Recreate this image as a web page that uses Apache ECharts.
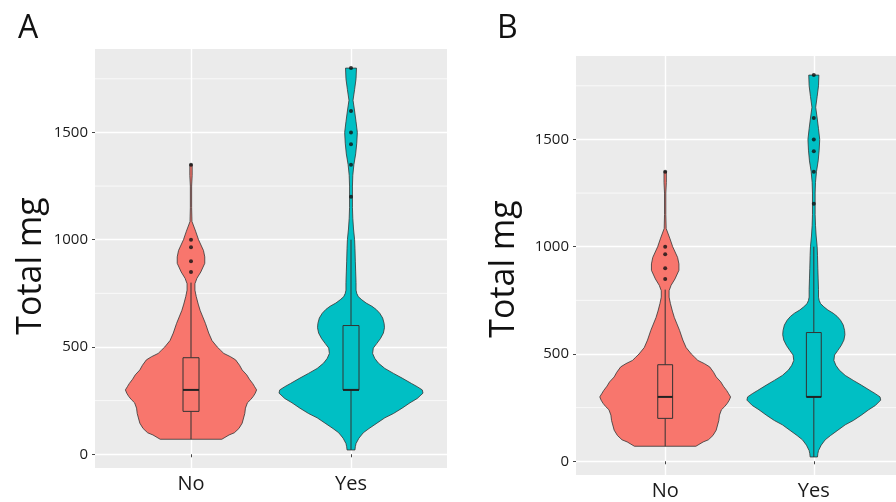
<!DOCTYPE html>
<html><head><meta charset="utf-8">
<script src="https://cdn.jsdelivr.net/npm/echarts@6/dist/echarts.min.js"></script>
<style>html,body{margin:0;padding:0;background:#fff}#c{width:896px;height:502px}</style>
</head><body><div id="c"></div>
<script>
const categories = ['No', 'Yes'];
const yTickValues = [0, 500, 1000, 1500];
const yMinorValues = [250, 750, 1250, 1750];
const panelLabels = ['A', 'B'];
const yTitle = 'Total mg';

// violin density profiles: value (mg) and relative half-width (peak = 1)
const noValues = [70, 90, 100, 120, 145, 190, 215, 240, 255, 270, 285, 300, 315, 330, 350, 370, 393, 415, 440, 455, 470, 485, 500, 530, 565, 610, 640, 670, 700, 735, 765, 795, 820, 850, 890, 920, 950, 1000, 1040, 1085, 1150, 1250, 1300, 1350];
const noDensity = [0.47, 0.58, 0.66, 0.73, 0.78, 0.82, 0.83, 0.86, 0.91, 0.95, 0.98, 1.0, 0.97, 0.94, 0.89, 0.85, 0.78, 0.74, 0.68, 0.60, 0.50, 0.45, 0.40, 0.32, 0.27, 0.22, 0.18, 0.14, 0.11, 0.08, 0.06, 0.06, 0.09, 0.15, 0.21, 0.21, 0.19, 0.115, 0.07, 0.015, 0.01, 0.01, 0.018, 0.018];
const yesValues = [20, 35, 50, 75, 100, 120, 145, 170, 190, 215, 240, 260, 285, 300, 315, 330, 355, 377, 400, 425, 447, 470, 495, 517, 540, 565, 590, 610, 635, 657, 675, 690, 705, 720, 735, 750, 765, 800, 850, 900, 960, 1000, 1050, 1100, 1150, 1200, 1250, 1300, 1350, 1400, 1450, 1500, 1550, 1600, 1650, 1700, 1750, 1800];
const yesDensity = [0.055, 0.06, 0.07, 0.11, 0.17, 0.25, 0.36, 0.47, 0.59, 0.71, 0.82, 0.92, 1.0, 0.99, 0.92, 0.84, 0.71, 0.59, 0.47, 0.38, 0.33, 0.30, 0.31, 0.36, 0.41, 0.45, 0.465, 0.46, 0.44, 0.40, 0.35, 0.29, 0.21, 0.15, 0.10, 0.08, 0.07, 0.07, 0.065, 0.06, 0.055, 0.05, 0.035, 0.025, 0.02, 0.02, 0.02, 0.025, 0.04, 0.065, 0.08, 0.088, 0.07, 0.05, 0.028, 0.05, 0.07, 0.076];

// box statistics: [lower whisker, Q1, median, Q3, upper whisker]
const noBox = [70, 200, 300, 450, 800];
const yesBox = [20, 300, 300, 600, 1000];
const noOutliers = [850, 900, 965, 1000, 1350];
const yesOutliers = [1200, 1350, 1445, 1500, 1600, 1800];

const groups = [
  {values: noValues, density: noDensity, box: noBox, outliers: noOutliers},
  {values: yesValues, density: yesDensity, box: yesBox, outliers: yesOutliers}
];
const fills = ['#F8766D', '#00BFC4'];
const FONT = '"Open Sans", "DejaVu Sans", sans-serif';
const panels = [
  {grid: {left: 95, top: 49, width: 352, height: 419}, peak: [0.41, 0.45], labelXY: [18, 29], titleXY: [31, 266]},
  {grid: {left: 576, top: 56, width: 327, height: 419}, peak: [0.44, 0.45], labelXY: [497, 29], titleXY: [504, 269]}
];
const X_MIN = 0.4, X_MAX = 2.6, Y_MIN = -64, Y_MAX = 1889, BOX_HALF = 0.05;

const grids = [], xAxes = [], yAxes = [], series = [], graphics = [];
panels.forEach((p, pi) => {
  grids.push(Object.assign({show: true, backgroundColor: '#EBEBEB', borderWidth: 0, containLabel: false, outerBoundsMode: 'none'}, p.grid));
  xAxes.push({
    type: 'value', gridIndex: pi, min: X_MIN, max: X_MAX,
    axisLine: {show: false},
    axisTick: {show: true, length: 3, customValues: [1, 2], lineStyle: {color: '#444', width: 1}},
    axisLabel: {customValues: [1, 2], formatter: v => categories[Math.round(v) - 1], fontSize: 20, color: '#1a1a1a', fontFamily: FONT, margin: 6},
    splitLine: {show: true, lineStyle: {color: '#ffffff', width: 1.4}}
  });
  yAxes.push({
    type: 'value', gridIndex: pi, min: Y_MIN, max: Y_MAX,
    axisLine: {show: false},
    axisTick: {show: true, length: 3, customValues: yTickValues, lineStyle: {color: '#444', width: 1}},
    axisLabel: {customValues: yTickValues, formatter: v => String(v), fontSize: 15, color: '#1a1a1a', fontFamily: FONT, margin: 7},
    splitLine: {show: true, lineStyle: {color: '#ffffff', width: 1.4}}
  });
  // minor gridlines
  series.push({
    type: 'custom', xAxisIndex: pi, yAxisIndex: pi, silent: true, z: 1,
    data: yMinorValues,
    renderItem: (params, api) => {
      const v = api.value(0);
      const a = api.coord([X_MIN, v]), b = api.coord([X_MAX, v]);
      return {type: 'line', shape: {x1: a[0], y1: a[1], x2: b[0], y2: b[1]}, style: {stroke: '#ffffff', lineWidth: 0.7}};
    }
  });
  // violins
  series.push({
    type: 'custom', xAxisIndex: pi, yAxisIndex: pi, silent: true, z: 2,
    data: [0, 1],
    renderItem: (params, api) => {
      const gi = api.value(0);
      const g = groups[gi], cx = gi + 1, pk = p.peak[gi];
      const right = g.values.map((v, k) => api.coord([cx + g.density[k] * pk, v]));
      const left = g.values.map((v, k) => api.coord([cx - g.density[k] * pk, v])).reverse();
      return {type: 'polygon', shape: {points: right.concat(left)}, style: {fill: fills[gi], stroke: '#333333', lineWidth: 0.8}};
    }
  });
  // boxplots
  series.push({
    type: 'custom', xAxisIndex: pi, yAxisIndex: pi, silent: true, z: 3,
    data: [0, 1],
    renderItem: (params, api) => {
      const gi = api.value(0);
      const b = groups[gi].box, cx = gi + 1;
      const c = (y) => api.coord([cx, y]);
      const tl = api.coord([cx - BOX_HALF, b[3]]), br = api.coord([cx + BOX_HALF, b[1]]);
      const ml = api.coord([cx - BOX_HALF, b[2]]), mr = api.coord([cx + BOX_HALF, b[2]]);
      const lineStyle = {stroke: '#333333', lineWidth: 1};
      return {type: 'group', children: [
        {type: 'line', shape: {x1: c(b[0])[0], y1: c(b[0])[1], x2: c(b[1])[0], y2: c(b[1])[1]}, style: lineStyle},
        {type: 'line', shape: {x1: c(b[3])[0], y1: c(b[3])[1], x2: c(b[4])[0], y2: c(b[4])[1]}, style: lineStyle},
        {type: 'rect', shape: {x: tl[0], y: tl[1], width: br[0] - tl[0], height: br[1] - tl[1]}, style: {fill: fills[gi], stroke: '#333333', lineWidth: 1}},
        {type: 'line', shape: {x1: ml[0], y1: ml[1], x2: mr[0], y2: mr[1]}, style: {stroke: '#222222', lineWidth: 2}}
      ]};
    }
  });
  // outliers
  const pts = [];
  groups.forEach((g, gi) => g.outliers.forEach(v => pts.push([gi + 1, v])));
  series.push({
    type: 'scatter', xAxisIndex: pi, yAxisIndex: pi, silent: true, z: 4,
    symbol: 'circle', symbolSize: 4, itemStyle: {color: '#111111'}, data: pts
  });
  graphics.push({type: 'text', x: p.labelXY[0], y: p.labelXY[1], style: {text: panelLabels[pi], fontSize: 32, fontFamily: FONT, fill: '#111', align: 'left', verticalAlign: 'middle'}});
  graphics.push({type: 'text', x: p.titleXY[0], y: p.titleXY[1], rotation: Math.PI / 2, style: {text: yTitle, fontSize: 34, fontFamily: FONT, fill: '#111', align: 'center', verticalAlign: 'middle'}});
});

const chart = echarts.init(document.getElementById('c'), null, {renderer: 'canvas'});
chart.setOption({
  animation: false,
  backgroundColor: '#ffffff',
  textStyle: {fontFamily: FONT},
  grid: grids, xAxis: xAxes, yAxis: yAxes, series: series, graphic: graphics
});
</script></body></html>
